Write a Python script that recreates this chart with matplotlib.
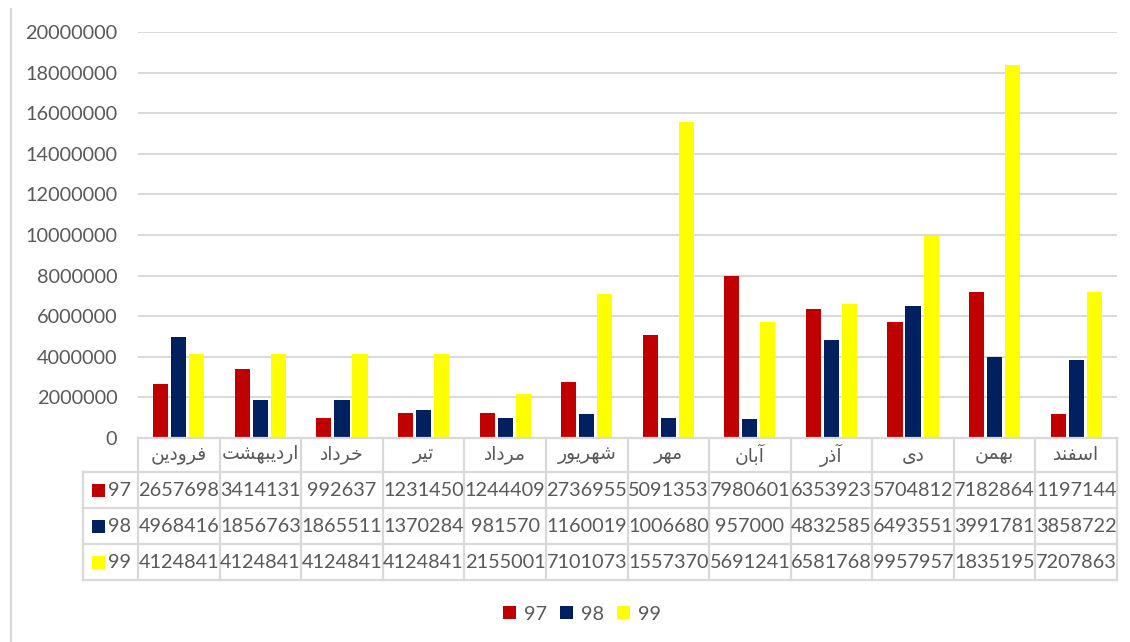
import matplotlib
matplotlib.use("Agg")
import matplotlib.pyplot as plt
from matplotlib.lines import Line2D
from matplotlib.patches import Rectangle
from matplotlib.transforms import blended_transform_factory
import numpy as np

# ---- data -------------------------------------------------------------
months = ["فرودین", "اردیبهشت", "خرداد", "تیر", "مرداد", "شهریور",
          "مهر", "آبان", "آذر", "دی", "بهمن", "اسفند"]
series_names = ["97", "98", "99"]
v97 = [2657698, 3414131, 992637, 1231450, 1244409, 2736955,
       5091353, 7980601, 6353923, 5704812, 7182864, 1197144]
v98 = [4968416, 1856763, 1865511, 1370284, 981570, 1160019,
       1006680, 957000, 4832585, 6493551, 3991781, 3858722]
v99 = [4124841, 4124841, 4124841, 4124841, 2155001, 7101073,
       15573700, 5691241, 6581768, 9957957, 18351950, 7207863]
yticks = [0, 2000000, 4000000, 6000000, 8000000, 10000000,
          12000000, 14000000, 16000000, 18000000, 20000000]
colors = ["#C00000", "#002060", "#FFFF00"]

# ---- Persian shaping (matplotlib has no complex text layout) -----------
# char -> (isolated, final, initial, medial); right-joining letters have 2 forms
FORMS = {
    "ا": (0xFE8D, 0xFE8E), "آ": (0xFE81, 0xFE82),
    "د": (0xFEA9, 0xFEAA), "ذ": (0xFEAB, 0xFEAC),
    "ر": (0xFEAD, 0xFEAE), "ز": (0xFEAF, 0xFEB0),
    "و": (0xFEED, 0xFEEE),
    "ب": (0xFE8F, 0xFE90, 0xFE91, 0xFE92),
    "ت": (0xFE95, 0xFE96, 0xFE97, 0xFE98),
    "خ": (0xFEA5, 0xFEA6, 0xFEA7, 0xFEA8),
    "س": (0xFEB1, 0xFEB2, 0xFEB3, 0xFEB4),
    "ش": (0xFEB5, 0xFEB6, 0xFEB7, 0xFEB8),
    "ف": (0xFED1, 0xFED2, 0xFED3, 0xFED4),
    "م": (0xFEE1, 0xFEE2, 0xFEE3, 0xFEE4),
    "ن": (0xFEE5, 0xFEE6, 0xFEE7, 0xFEE8),
    "ه": (0xFEE9, 0xFEEA, 0xFEEB, 0xFEEC),
    "ی": (0xFEEF, 0xFEF0, 0xFEF3, 0xFEF4),
}


def shape(word):
    out = []
    n = len(word)
    for i, ch in enumerate(word):
        f = FORMS.get(ch)
        if f is None:
            out.append(ch)
            continue
        prev = FORMS.get(word[i - 1]) if i > 0 else None
        nxt = FORMS.get(word[i + 1]) if i < n - 1 else None
        join_prev = prev is not None and len(prev) == 4
        join_next = len(f) == 4 and nxt is not None
        if join_prev and join_next:
            cp = f[3]
        elif join_prev:
            cp = f[1]
        elif join_next:
            cp = f[2]
        else:
            cp = f[0]
        out.append(chr(cp))
    return "".join(reversed(out))


# ---- figure -----------------------------------------------------------
W, H = 1130, 642
fig = plt.figure(figsize=(W / 100, H / 100), dpi=100)
fig.patch.set_facecolor("white")

TXT = "#595959"
GRID = "#d9d9d9"
NUMFONT = "Lato"
FS = 14.3
FS_AR = 13.5


def fx(px):
    return px / W


def fy(py):
    return 1 - py / H


x_left, x_right, y_zero, y_top = 138, 1117, 438, 32
ax = fig.add_axes([fx(x_left), fy(y_zero), fx(x_right - x_left),
                   (y_zero - y_top) / H])
ax.set_xlim(-0.5, len(months) - 0.5)
ax.set_ylim(0, 20000000)

x = np.arange(len(months))
bw = 0.185
step = 0.221
bars = []
for k, (vals, c) in enumerate(zip([v97, v98, v99], colors)):
    b = ax.bar(x + (k - 1) * step, vals, width=bw, color=c, zorder=3,
               label=series_names[k])
    bars.append(b)

ax.set_yticks(yticks)
ax.set_yticklabels([str(t) for t in yticks], fontsize=FS, color=TXT,
                   family=NUMFONT)
ax.tick_params(axis="y", length=0, pad=15)
ax.set_xticks([])
ax.yaxis.grid(True, color=GRID, lw=1.4, zorder=0)
for s in ax.spines.values():
    s.set_visible(False)

# ---- data table -------------------------------------------------------
T = blended_transform_factory(ax.transData, fig.transFigure)
rows_px = [438, 472, 508, 544, 580]
key_left = 83
lw_tab = 1.6


def hline(x0, x1, y):
    fig.add_artist(Line2D([fx(x0), fx(x1)], [fy(y), fy(y)],
                          transform=fig.transFigure, color=GRID, lw=lw_tab))


hline(x_left, x_right, rows_px[0])
for y in rows_px[1:]:
    hline(key_left, x_right, y)
fig.add_artist(Line2D([fx(key_left)] * 2, [fy(rows_px[1]), fy(rows_px[-1])],
                      transform=fig.transFigure, color=GRID, lw=lw_tab))
for b in np.arange(len(months) + 1) - 0.5:
    fig.add_artist(Line2D([b, b], [fy(rows_px[0]), fy(rows_px[-1])],
                          transform=T, color=GRID, lw=lw_tab))

# month headers
hy = fy((rows_px[0] + rows_px[1]) / 2)
for i, m in enumerate(months):
    fig.text(i, hy, shape(m), transform=T, ha="center", va="center",
             fontsize=FS_AR, color=TXT, family="DejaVu Sans")

# values rows; numbers wider than a cell are cut at the cell edge
for r, (vals, name, c) in enumerate(zip([v97, v98, v99], series_names, colors)):
    top, bot = rows_px[r + 1], rows_px[r + 2]
    cy = fy((top + bot) / 2)
    for i, v in enumerate(vals):
        s = str(v)
        clip = Rectangle((i - 0.5, fy(bot)), 1, (bot - top) / H, transform=T)
        if len(s) > 7:
            t = fig.text(i - 0.5 + 0.012, cy, s, transform=T, ha="left",
                         va="center", fontsize=FS, color=TXT, family=NUMFONT)
        else:
            t = fig.text(i, cy, s, transform=T, ha="center", va="center",
                         fontsize=FS, color=TXT, family=NUMFONT)
        t.set_clip_path(clip)
    # series key in the first column
    sq = 13
    fig.add_artist(Rectangle((fx(92), cy - sq / 2 / H), sq / W, sq / H,
                             transform=fig.transFigure, color=c,
                             ec="none"))
    fig.text(fx(108), cy, name, ha="left", va="center", fontsize=FS,
             color=TXT, family=NUMFONT)

# ---- legend -----------------------------------------------------------
leg = fig.legend(handles=bars, labels=series_names, loc="center",
                 bbox_to_anchor=(fx(582), fy(614)), ncol=3, frameon=False,
                 handlelength=0.65, handleheight=0.65, handletextpad=0.4,
                 columnspacing=0.65, prop={"family": NUMFONT, "size": FS})
for t in leg.get_texts():
    t.set_color(TXT)

# chart frame edge on the left
fig.add_artist(Line2D([fx(11), fx(11)], [fy(9), 0], transform=fig.transFigure,
                      color=GRID, lw=1.6))

fig.savefig("out.png", dpi=100)
